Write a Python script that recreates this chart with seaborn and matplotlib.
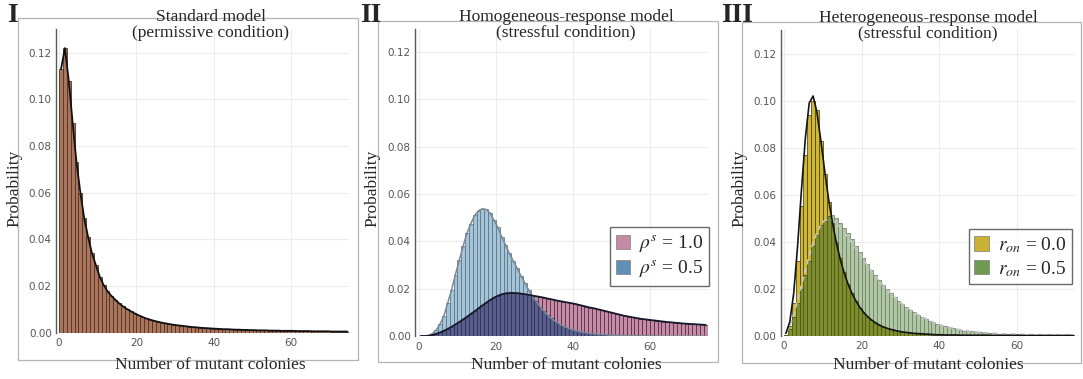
import numpy as np
import pandas as pd
import matplotlib
matplotlib.use("Agg")
import matplotlib.pyplot as plt
import seaborn as sns
from matplotlib.patches import Rectangle, Patch

# ---------------------------------------------------------------- data
# Number of mutant colonies: unit-width bins 0..74
colonies = np.arange(75)

# I. Standard model, permissive condition
standard_prob = [
    0.113, 0.122, 0.108, 0.090, 0.073, 0.060, 0.049, 0.041, 0.034, 0.029,
    0.0240, 0.0205, 0.0178, 0.0158, 0.0142, 0.0126, 0.0113, 0.0102, 0.0092, 0.0083,
    0.0075, 0.0068, 0.0061, 0.0056, 0.0051, 0.0047, 0.0043, 0.0040, 0.0037, 0.0034,
    0.0032, 0.0030, 0.0028, 0.0026, 0.0024, 0.0023, 0.0021, 0.0020, 0.0019, 0.0018,
    0.0017, 0.0016, 0.0015, 0.0015, 0.0014, 0.0013, 0.0013, 0.0012, 0.0012, 0.0011,
    0.0011, 0.0010, 0.0010, 0.0010, 0.0009, 0.0009, 0.0009, 0.0008, 0.0008, 0.0008,
    0.0008, 0.0007, 0.0007, 0.0007, 0.0007, 0.0006, 0.0006, 0.0006, 0.0006, 0.0006,
    0.0005, 0.0005, 0.0005, 0.0005, 0.0005,
]

# II. Homogeneous-response model, stressful condition
homog_rho_10 = [
    0.0, 0.0, 0.0001, 0.0004, 0.0009, 0.0015, 0.0022, 0.0030, 0.0039, 0.0049,
    0.0059, 0.0070, 0.0081, 0.0093, 0.0105, 0.0117, 0.0129, 0.0141, 0.0152, 0.0162,
    0.0170, 0.0176, 0.0180, 0.0182, 0.0182, 0.0181, 0.0179, 0.0177, 0.0174, 0.0171,
    0.0168, 0.0165, 0.0162, 0.0158, 0.0155, 0.0151, 0.0148, 0.0145, 0.0142, 0.0139,
    0.0136, 0.0132, 0.0128, 0.0124, 0.0120, 0.0117, 0.0113, 0.0109, 0.0105, 0.0101,
    0.0097, 0.0093, 0.0089, 0.0085, 0.0082, 0.0079, 0.0076, 0.0073, 0.0071, 0.0069,
    0.0067, 0.0065, 0.0063, 0.0061, 0.0059, 0.0058, 0.0056, 0.0055, 0.0053, 0.0052,
    0.0051, 0.0050, 0.0049, 0.0048, 0.0047,
]
homog_rho_05 = [
    0.0, 0.0, 0.0002, 0.0010, 0.0025, 0.0050, 0.0085, 0.0140, 0.0195, 0.0260,
    0.0320, 0.0380, 0.0435, 0.0475, 0.0510, 0.0530, 0.0538, 0.0535, 0.0520, 0.0490,
    0.0460, 0.0420, 0.0385, 0.0350, 0.0318, 0.0287, 0.0255, 0.0225, 0.0195, 0.0168,
    0.0146, 0.0124, 0.0105, 0.0088, 0.0074, 0.0061, 0.0051, 0.0042, 0.0035, 0.0029,
    0.0024, 0.0020, 0.0016, 0.0013, 0.0011, 0.0009, 0.0007, 0.0006, 0.0005, 0.0004,
    0.0003, 0.0003, 0.0002, 0.0002, 0.0001, 0.0001, 0.0001, 0.0001, 0.0001, 0.0001,
    0.0, 0.0, 0.0, 0.0, 0.0, 0.0, 0.0, 0.0, 0.0, 0.0,
    0.0, 0.0, 0.0, 0.0, 0.0,
]

# III. Heterogeneous-response model, stressful condition (simulated bars)
hetero_ron_00 = [
    0.0005, 0.0040, 0.0140, 0.0320, 0.0550, 0.0770, 0.0940, 0.1000, 0.0960, 0.0830,
    0.0690, 0.0570, 0.0480, 0.0400, 0.0330, 0.0270, 0.0220, 0.0180, 0.0148, 0.0120,
    0.0098, 0.0080, 0.0066, 0.0055, 0.0046, 0.0038, 0.0032, 0.0027, 0.0023, 0.0019,
    0.0016, 0.0014, 0.0012, 0.0010, 0.0009, 0.0008, 0.0007, 0.0006, 0.0005, 0.0004,
    0.0004, 0.0003, 0.0003, 0.0003, 0.0003, 0.0002, 0.0002, 0.0002, 0.0002, 0.0002,
    0.0002, 0.0002, 0.0002, 0.0001, 0.0001, 0.0001, 0.0001, 0.0001, 0.0001, 0.0001,
    0.0001, 0.0001, 0.0001, 0.0001, 0.0001, 0.0001, 0.0001, 0.0001, 0.0001, 0.0001,
    0.0001, 0.0001, 0.0001, 0.0001, 0.0001,
]
hetero_ron_05 = [
    0.0005, 0.0030, 0.0080, 0.0140, 0.0200, 0.0260, 0.0320, 0.0380, 0.0430, 0.0470,
    0.0490, 0.0510, 0.0512, 0.0500, 0.0480, 0.0460, 0.0435, 0.0410, 0.0380, 0.0355,
    0.0330, 0.0305, 0.0280, 0.0258, 0.0237, 0.0217, 0.0198, 0.0180, 0.0164, 0.0149,
    0.0135, 0.0122, 0.0110, 0.0099, 0.0089, 0.0080, 0.0072, 0.0064, 0.0057, 0.0051,
    0.0045, 0.0040, 0.0036, 0.0032, 0.0028, 0.0025, 0.0022, 0.0020, 0.0018, 0.0016,
    0.0014, 0.0013, 0.0012, 0.0011, 0.0010, 0.0009, 0.0008, 0.0007, 0.0007, 0.0006,
    0.0006, 0.0005, 0.0005, 0.0004, 0.0004, 0.0004, 0.0003, 0.0003, 0.0003, 0.0003,
    0.0002, 0.0002, 0.0002, 0.0002, 0.0002,
]
# III. analytical distributions drawn as curves
hetero_ron_00_theory = [
    0.0010, 0.0060, 0.0180, 0.0380, 0.0620, 0.0840, 0.0990, 0.1020, 0.0950, 0.0830,
    0.0700, 0.0580, 0.0480, 0.0395, 0.0325, 0.0268, 0.0220, 0.0181, 0.0149, 0.0122,
    0.0100, 0.0082, 0.0068, 0.0056, 0.0046, 0.0038, 0.0032, 0.0027, 0.0023, 0.0019,
    0.0016, 0.0014, 0.0012, 0.0010, 0.0009, 0.0008, 0.0007, 0.0006, 0.0005, 0.0004,
    0.0004, 0.0003, 0.0003, 0.0003, 0.0003, 0.0002, 0.0002, 0.0002, 0.0002, 0.0002,
    0.0002, 0.0002, 0.0002, 0.0001, 0.0001, 0.0001, 0.0001, 0.0001, 0.0001, 0.0001,
    0.0001, 0.0001, 0.0001, 0.0001, 0.0001, 0.0001, 0.0001, 0.0001, 0.0001, 0.0001,
    0.0001, 0.0001, 0.0001, 0.0001, 0.0001,
]
hetero_ron_05_theory = [
    0.0010, 0.0040, 0.0090, 0.0150, 0.0215, 0.0280, 0.0340, 0.0395, 0.0440, 0.0472,
    0.0490, 0.0495, 0.0490, 0.0478, 0.0460, 0.0440, 0.0418, 0.0395, 0.0370, 0.0345,
    0.0322, 0.0298, 0.0275, 0.0254, 0.0234, 0.0215, 0.0197, 0.0180, 0.0164, 0.0149,
    0.0135, 0.0122, 0.0110, 0.0099, 0.0089, 0.0080, 0.0072, 0.0064, 0.0057, 0.0051,
    0.0045, 0.0040, 0.0036, 0.0032, 0.0028, 0.0025, 0.0022, 0.0020, 0.0018, 0.0016,
    0.0014, 0.0013, 0.0012, 0.0011, 0.0010, 0.0009, 0.0008, 0.0007, 0.0007, 0.0006,
    0.0006, 0.0005, 0.0005, 0.0004, 0.0004, 0.0004, 0.0003, 0.0003, 0.0003, 0.0003,
    0.0002, 0.0002, 0.0002, 0.0002, 0.0002,
]

x_ticks = [0, 20, 40, 60]
y_ticks = [0.00, 0.02, 0.04, 0.06, 0.08, 0.10, 0.12]
panel_tags = ["I", "II", "III"]
panel_titles = [
    "Standard model\n(permissive condition)",
    "Homogeneous-response model\n(stressful condition)",
    "Heterogeneous-response model\n(stressful condition)",
]
legend_II = [r"$\rho^s$ = 1.0", r"$\rho^s$ = 0.5"]
legend_III = [r"$r_{on}$ = 0.0", r"$r_{on}$ = 0.5"]
x_label = "Number of mutant colonies"
y_label = "Probability"

# ---------------------------------------------------------------- style
sns.set_style("white")
plt.rcParams["font.family"] = ["DejaVu Sans"]
plt.rcParams["mathtext.fontset"] = "stix"
SERIF = ["Liberation Serif", "DejaVu Serif"]

W, H = 1083, 379
fig = plt.figure(figsize=(W / 100, H / 100), dpi=100)

centers = colonies + 0.5


def px_rect(x0, y0, x1, y1):
    """Figure-fraction rectangle from pixel corners (origin top-left)."""
    return [x0 / W, 1 - y1 / H, (x1 - x0) / W, (y1 - y0) / H]


def bars(ax, weights, face, edge, lw=0.55, z=2):
    df = pd.DataFrame({"n": centers, "p": np.asarray(weights, dtype=float)})
    sns.histplot(data=df, x="n", weights="p", bins=75, binrange=(0, 75),
                 stat="count", color=face, edgecolor=edge, linewidth=lw,
                 alpha=1.0, ax=ax, zorder=z)


def curve(ax, values, color, lw=1.2, ls="-", z=5):
    df = pd.DataFrame({"n": centers, "p": np.asarray(values, dtype=float)})
    sns.lineplot(data=df, x="n", y="p", ax=ax, color=color, lw=lw,
                 linestyle=ls, zorder=z)


def style_axes(ax, xlim):
    ax.set_xlim(*xlim)
    ax.set_ylim(0, 0.13)
    ax.set_xticks(x_ticks)
    ax.set_yticks(y_ticks)
    ax.set_yticklabels([f"{v:.2f}" for v in y_ticks])
    ax.set_xlabel("")
    ax.set_ylabel("")
    ax.grid(True, color="#ececec", lw=0.8, zorder=0)
    ax.set_axisbelow(True)
    for side in ("top", "right", "bottom"):
        ax.spines[side].set_visible(False)
    ax.spines["left"].set_color("#5a5a5a")
    ax.spines["left"].set_linewidth(1.0)
    ax.tick_params(axis="both", labelsize=7.5, labelcolor="#555555",
                   color="#5a5a5a", direction="in", length=3, width=0.8, pad=3)
    ax.tick_params(axis="x", length=0, pad=4)
    ax.patch.set_alpha(0)


def add_legend(ax, handles, labels, anchor):
    leg = ax.legend(handles, labels, loc="center right", bbox_to_anchor=anchor,
                    prop={"family": SERIF, "size": 14}, handlelength=0.75,
                    handleheight=0.75, handletextpad=0.45, labelspacing=0.2,
                    borderpad=0.3, borderaxespad=0.0, frameon=True, fancybox=False)
    leg.get_frame().set_edgecolor("#444444")
    leg.get_frame().set_linewidth(1.0)
    return leg


# axes placements (pixel coordinates of plot areas)
ax1 = fig.add_axes(px_rect(56, 29.4, 349.3, 332.7))
ax2 = fig.add_axes(px_rect(415, 28.5, 707.6, 336.0))
ax3 = fig.add_axes(px_rect(780.7, 30.2, 1075.0, 335.7))

# outer panel frames
for (x0, y0, x1, y1) in [(18, 18, 358, 360), (378, 21, 718, 362), (742, 22, 1081, 363)]:
    fig.add_artist(Rectangle((x0 / W, 1 - y1 / H), (x1 - x0) / W, (y1 - y0) / H,
                             transform=fig.transFigure, fill=False,
                             edgecolor="#b4b4b4", lw=0.9, zorder=0))

# ---- panel I
bars(ax1, standard_prob, "#ad7459", "#45362e", lw=0.6)
curve(ax1, standard_prob, "#111111", lw=1.3)
style_axes(ax1, (-0.8, 75))

# ---- panel II
pink, blue = np.array(homog_rho_10), np.array(homog_rho_05)
bars(ax2, pink, "#c98aa8", "#4a3040", lw=0.55, z=2)
bars(ax2, blue, "#a3c4d9", "#5d7283", lw=0.55, z=3)
bars(ax2, np.minimum(pink, blue), "#5a5e8c", "#2c2f50", lw=0.55, z=4)
curve(ax2, blue, "#7a8896", lw=1.1)
curve(ax2, pink, "#16182c", lw=1.3, z=6)
style_axes(ax2, (-1.0, 75))
h2 = [Patch(facecolor="#c48aa6", edgecolor="#8a8a8a", lw=0.6),
      Patch(facecolor="#5f8fb6", edgecolor="#8a8a8a", lw=0.6)]
add_legend(ax2, h2, legend_II, (1.006, 0.258))

# ---- panel III
yellow, green = np.array(hetero_ron_00), np.array(hetero_ron_05)
bars(ax3, yellow, "#d0b834", "#4a4214", lw=0.55, z=2)
bars(ax3, green, "#b0c9a4", "#6f7f68", lw=0.55, z=3)
bars(ax3, np.minimum(yellow, green), "#7f8e2c", "#4a5418", lw=0.55, z=4)
curve(ax3, hetero_ron_05_theory, "#c4c4c4", lw=1.3, ls=(0, (3, 2)))
curve(ax3, hetero_ron_00_theory, "#141414", lw=1.2, z=6)
style_axes(ax3, (-0.85, 75))
h3 = [Patch(facecolor="#c9b230", edgecolor="#8a8a8a", lw=0.6),
      Patch(facecolor="#6f9a52", edgecolor="#8a8a8a", lw=0.6)]
add_legend(ax3, h3, legend_III, (0.99, 0.258))

# ---- texts
tag_pos = [(12, 15), (371, 15), (737, 16)]
title_pos = [(211, 25), (566, 25), (928, 26)]
ylab_x = [14, 372, 739]
xlab_x = [210, 566, 928]
for i in range(3):
    fig.text(tag_pos[i][0] / W, 1 - tag_pos[i][1] / H, panel_tags[i], family=SERIF,
             fontsize=20, fontweight="bold", ha="center", va="center")
    fig.text(title_pos[i][0] / W, 1 - title_pos[i][1] / H, panel_titles[i], family=SERIF,
             fontsize=12.5, ha="center", va="center", linespacing=0.92)
    fig.text(ylab_x[i] / W, 1 - 188 / H, y_label, family=SERIF, fontsize=12.5,
             rotation=90, ha="center", va="center")
    fig.text(xlab_x[i] / W, 1 - 365 / H, x_label, family=SERIF, fontsize=12.5,
             ha="center", va="center")

fig.savefig("out.png", dpi=100)
